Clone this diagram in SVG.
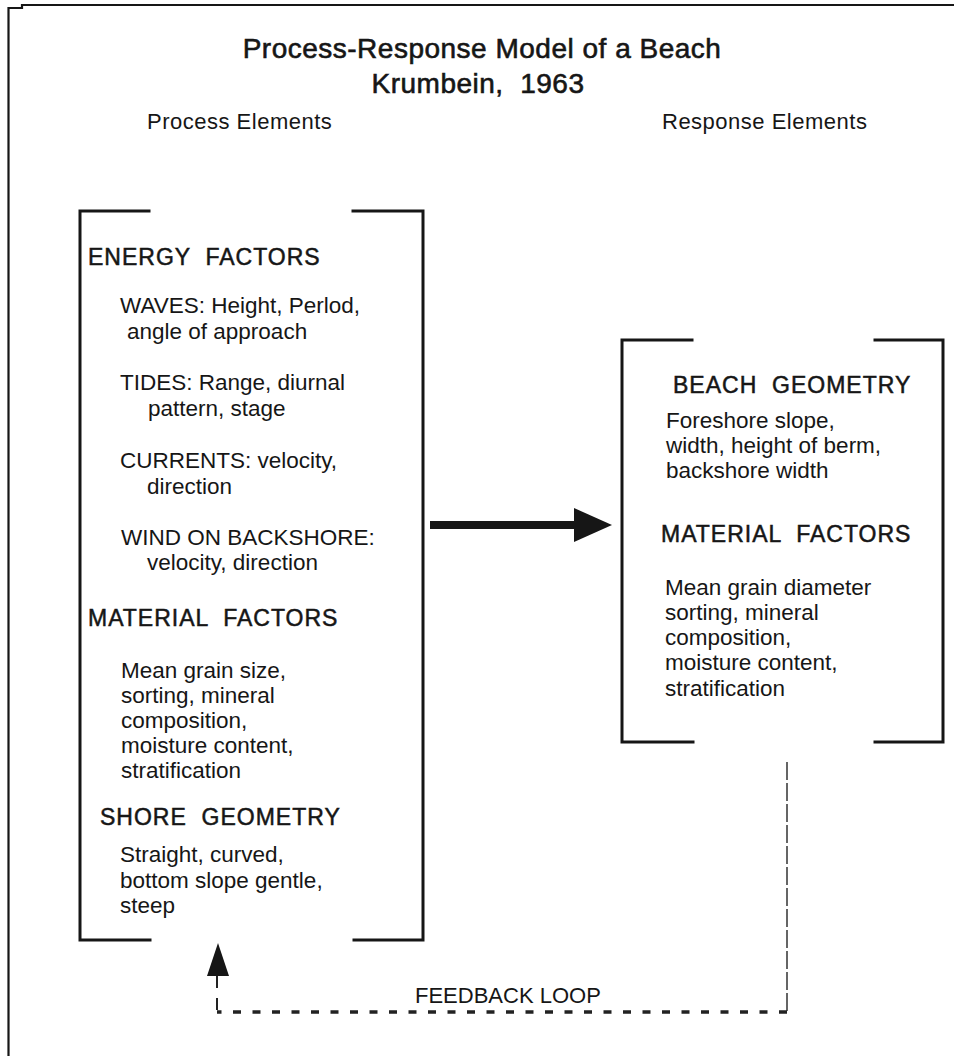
<svg xmlns="http://www.w3.org/2000/svg" width="954" height="1056" viewBox="0 0 954 1056" xml:space="preserve">
  <defs>
    <style>
      text { font-family: "Liberation Sans", Arial, Helvetica, sans-serif; fill: #161616; white-space: pre; }
      .title { font-size: 28px; stroke: #161616; stroke-width: 0.6; letter-spacing: 0.5px; }
      .col { font-size: 22px; letter-spacing: 0.5px; }
      .head { font-size: 23px; letter-spacing: 1px; stroke: #161616; stroke-width: 0.5; }
      .body { font-size: 22.5px; }
      .label { font-size: 22px; }
      .bracket { fill: none; stroke: #161616; stroke-width: 3; stroke-linecap: square; }
      .frame { fill: none; stroke: #161616; stroke-width: 2.2; }
      .flow { fill: none; stroke: #161616; stroke-width: 8; }
      .loop { fill: none; stroke: #222; stroke-width: 3.5; stroke-dasharray: 8 11.5; }
      .loop-up { fill: none; stroke: #222; stroke-width: 2; stroke-dasharray: 12 10; }
      .loop-side { fill: none; stroke: #333; stroke-width: 1.5; stroke-dasharray: 18 3; }
      .head-fill { fill: #161616; }
    </style>
  </defs>

  <rect width="954" height="1056" fill="#ffffff"/>

  <!-- page frame: top and left edges -->
  <path class="frame" d="M8.5,1056 L8.5,8 L22,8 L22,5 L954,5"/>

  <!-- heading -->
  <g id="heading">
    <text class="title" x="482" y="58" text-anchor="middle">Process-Response Model of a Beach</text>
    <text class="title" x="478" y="93" text-anchor="middle">Krumbein,  1963</text>
  </g>

  <!-- process elements -->
  <g id="process">
    <text class="col" x="147" y="129">Process Elements</text>
    <path class="bracket" d="M149,211 H80 V940 H150 M353,211 H423 V940 H354"/>
    <text class="head" x="88" y="265">ENERGY  FACTORS</text>
    <text class="body" x="120" y="313">WAVES: Height, Perlod,</text>
    <text class="body" x="127" y="339">angle of approach</text>
    <text class="body" x="120" y="390">TIDES: Range, diurnal</text>
    <text class="body" x="148" y="416">pattern, stage</text>
    <text class="body" x="120" y="468">CURRENTS: velocity,</text>
    <text class="body" x="147" y="494">direction</text>
    <text class="body" x="121" y="545">WIND ON BACKSHORE:</text>
    <text class="body" x="147" y="570">velocity, direction</text>
    <text class="head" x="88" y="626">MATERIAL  FACTORS</text>
    <text class="body" x="121" y="678">Mean grain size,</text>
    <text class="body" x="121" y="703">sorting, mineral</text>
    <text class="body" x="121" y="728">composition,</text>
    <text class="body" x="121" y="753">moisture content,</text>
    <text class="body" x="121" y="778">stratification</text>
    <text class="head" x="100" y="825">SHORE  GEOMETRY</text>
    <text class="body" x="120" y="862">Straight, curved,</text>
    <text class="body" x="120" y="888">bottom slope gentle,</text>
    <text class="body" x="120" y="913">steep</text>
  </g>

  <!-- response elements -->
  <g id="response">
    <text class="col" x="662" y="129">Response Elements</text>
    <path class="bracket" d="M692,340 H622 V742 H693 M875,340 H943 V742 H875"/>
    <text class="head" x="673" y="393">BEACH  GEOMETRY</text>
    <text class="body" x="666" y="428">Foreshore slope,</text>
    <text class="body" x="666" y="453">width, height of berm,</text>
    <text class="body" x="666" y="478">backshore width</text>
    <text class="head" x="661" y="542">MATERIAL  FACTORS</text>
    <text class="body" x="665" y="595">Mean grain diameter</text>
    <text class="body" x="665" y="620">sorting, mineral</text>
    <text class="body" x="665" y="645">composition,</text>
    <text class="body" x="665" y="670">moisture content,</text>
    <text class="body" x="665" y="696">stratification</text>
  </g>

  <!-- connectors -->
  <g id="connectors">
    <!-- process to response -->
    <line class="flow" x1="430" y1="525" x2="578" y2="525"/>
    <polygon class="head-fill" points="574,508 612,525 574,542"/>
    <!-- feedback loop back into the process box -->
    <path class="loop-side" d="M787,762 V1012"/>
    <path class="loop" d="M787,1012 H217"/>
    <path class="loop-up" d="M217,1010 V976"/>
    <polygon class="head-fill" points="218,943 207,976 229,976"/>
    <text class="label" x="415" y="1003">FEEDBACK LOOP</text>
  </g>
</svg>
